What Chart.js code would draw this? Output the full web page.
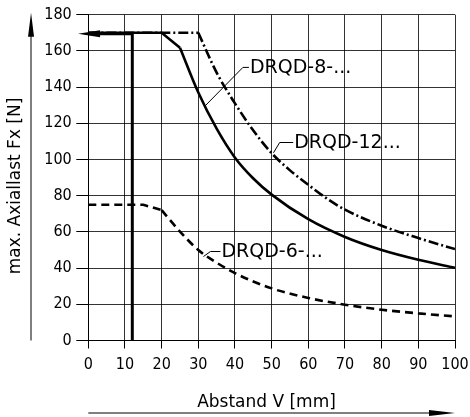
<!DOCTYPE html>
<html>
<head>
<meta charset="utf-8">
<script src="https://cdn.jsdelivr.net/npm/chart.js@4/dist/chart.umd.min.js"></script>
<style>
  html, body { margin: 0; padding: 0; background: #fff; }
  #wrap { width: 470px; height: 417px; position: relative; }
</style>
</head>
<body>
<div id="wrap"><canvas id="kraft-chart"></canvas></div>
<script>
// Werte
const xTicks = [0, 10, 20, 30, 40, 50, 60, 70, 80, 90, 100];
const yTicks = [0, 20, 40, 60, 80, 100, 120, 140, 160, 180];

const abstand8 = [0, 20, 25, 30, 35, 40, 45, 50, 60, 70, 80, 90, 100];
const drqd8 = [170, 170, 161.8, 137, 117, 101, 89.5, 80.6, 67, 57.2, 50, 44.6, 40.2];

const abstand12 = [0, 30, 35, 40, 45, 50, 55, 60, 65, 70, 80, 90, 100];
const drqd12 = [170, 170, 148, 131, 116, 103.5, 94, 86, 78.5, 72.3, 63.4, 56.6, 50.5];

const abstand6 = [0, 15, 20, 25, 30, 35, 40, 50, 60, 70, 80, 90, 100];
const drqd6 = [75, 75, 72, 60.2, 50, 43, 37.2, 28.8, 23.5, 19.8, 17, 15, 13.3];

// Index des Knicks: bis dorthin gerade, danach gekruemmt
const knick8 = 2;
const knick12 = 1;
const knick6 = 2;

// senkrechte Begrenzung bei V = 12 mm und Pfeil bei Fx max
const stopX = [12, 12];
const stopY = [0, 170];
const arrowX = [12, -2.8];
const arrowY = [169.5, 169.5];

const seriesLabels = ['DRQD-8-...', 'DRQD-12...', 'DRQD-6-...'];
// Ankerpunkte der Beschriftungen auf den Kurven
const labelAnchorX = [31.8, 50.5, 31.4];
const labelAnchorY = [129.5, 103.7, 46.4];

const toPoints = (xs, ys) => xs.map((x, i) => ({ x: x, y: ys[i] }));

const tickFont = '"DejaVu Sans Condensed", "DejaVu Sans", sans-serif';

const makeSeries = (label, xs, ys, knick, dash) => {
    const pts = toPoints(xs, ys);
    const base = { label: label, borderColor: '#000', borderWidth: 2.6, borderDash: dash };
    return [
        Object.assign({}, base, { data: pts.slice(0, knick + 1), tension: 0 }),
        Object.assign({}, base, { data: pts.slice(knick), cubicInterpolationMode: 'monotone' })
    ];
};

const drawArrowHead = (ctx, x, y, dir, len, half) => {
    ctx.beginPath();
    if (dir === 'left') {
        ctx.moveTo(x, y); ctx.lineTo(x + len, y - half); ctx.lineTo(x + len, y + half);
    } else if (dir === 'right') {
        ctx.moveTo(x, y); ctx.lineTo(x - len, y - half); ctx.lineTo(x - len, y + half);
    } else {
        ctx.moveTo(x, y); ctx.lineTo(x - half, y + len); ctx.lineTo(x + half, y + len);
    }
    ctx.closePath();
    ctx.fill();
};

const decorPlugin = {
    id: 'decor',
    afterDatasetsDraw(chart) {
        const { ctx, scales } = chart;
        const xs = scales.x, ys = scales.y;
        ctx.save();
        ctx.strokeStyle = '#000';
        ctx.fillStyle = '#000';

        // Pfeil nach links bei Fx max
        const ax0 = xs.getPixelForValue(arrowX[0]);
        const ax1 = xs.getPixelForValue(arrowX[1]);
        const ay = ys.getPixelForValue(arrowY[0]);
        ctx.lineWidth = 3;
        ctx.beginPath();
        ctx.moveTo(ax0, ay);
        ctx.lineTo(ax1 + 10, ay);
        ctx.stroke();
        drawArrowHead(ctx, ax1, ay, 'left', 22, 3.5);

        // Beschriftungen mit Hinweislinien
        const offsets = [[38, -38.7, 44], [6.2, -10.3, 19.7], [7, -5, 17]];
        ctx.lineWidth = 1;
        ctx.font = '19px "DejaVu Sans", sans-serif';
        ctx.textBaseline = 'middle';
        ctx.textAlign = 'left';
        seriesLabels.forEach((txt, i) => {
            const px = xs.getPixelForValue(labelAnchorX[i]);
            const py = ys.getPixelForValue(labelAnchorY[i]);
            const o = offsets[i];
            ctx.beginPath();
            ctx.moveTo(px, py);
            ctx.lineTo(px + o[0], py + o[1]);
            ctx.lineTo(px + o[2], py + o[1]);
            ctx.stroke();
            ctx.fillText(txt, px + o[2] + 1, py + o[1] + 1);
        });
        ctx.restore();
    },
    afterDraw(chart) {
        const { ctx, chartArea } = chart;
        ctx.save();
        ctx.strokeStyle = '#000';
        ctx.fillStyle = '#000';
        ctx.lineWidth = 1;

        // Achsenpfeil y
        ctx.beginPath();
        ctx.moveTo(31, chartArea.bottom);
        ctx.lineTo(31, chartArea.top + 10);
        ctx.stroke();
        drawArrowHead(ctx, 31, chartArea.top - 2, 'up', 24, 3);

        // Achsenpfeil x
        ctx.beginPath();
        ctx.moveTo(chartArea.left, 413);
        ctx.lineTo(chartArea.right - 10, 413);
        ctx.stroke();
        drawArrowHead(ctx, chartArea.right, 413, 'right', 26, 3);

        // Achsentitel
        ctx.font = '17px "DejaVu Sans", sans-serif';
        ctx.textAlign = 'center';
        ctx.textBaseline = 'alphabetic';
        ctx.fillText('Abstand V [mm]', 266.5, 406.5);
        ctx.translate(20, 186);
        ctx.rotate(-Math.PI / 2);
        ctx.fillText('max. Axiallast Fx [N]', 0, 0);
        ctx.restore();
    }
};

let kraftChart = null;

const renderChart = () => {
    const ctx = document.getElementById('kraft-chart').getContext('2d');
    if (kraftChart) {
        kraftChart.destroy();
    }
    const datasets = []
        .concat(makeSeries(seriesLabels[0], abstand8, drqd8, knick8, []))
        .concat(makeSeries(seriesLabels[1], abstand12, drqd12, knick12, [10, 3, 2, 3]))
        .concat(makeSeries(seriesLabels[2], abstand6, drqd6, knick6, [8, 5]));
    datasets.push({
        label: 'Grenze',
        data: toPoints(stopX, stopY),
        borderColor: '#000',
        borderWidth: 3,
    });
    kraftChart = new Chart(ctx, {
        type: 'line',
        data: { datasets: datasets },
        options: {
            responsive: true,
            maintainAspectRatio: false,
            animation: false,
            elements: { point: { radius: 0 } },
            layout: { padding: { top: 14.7, right: 15, left: 0, bottom: 0 } },
            scales: {
                x: {
                    type: 'linear',
                    min: 0,
                    max: 100,
                    afterFit: (scale) => {
                        scale.height = 76.5;
                        scale.paddingLeft = 0;
                        scale.paddingRight = 0;
                    },
                    afterBuildTicks: (scale) => { scale.ticks = xTicks.map(v => ({ value: v })); },
                    ticks: { color: '#000', padding: 7, maxRotation: 0, font: { family: tickFont, size: 16 } },
                    grid: { color: 'rgba(0,0,0,0.8)', lineWidth: 1, tickLength: 8, tickColor: '#000' },
                    border: { color: '#000', width: 1 }
                },
                y: {
                    min: 0,
                    max: 180,
                    afterFit: (scale) => {
                        scale.width = 88.3;
                        scale.paddingTop = 0;
                        scale.paddingBottom = 0;
                    },
                    afterBuildTicks: (scale) => { scale.ticks = yTicks.map(v => ({ value: v })); },
                    ticks: { color: '#000', padding: 4.6, font: { family: tickFont, size: 16 } },
                    grid: { color: 'rgba(0,0,0,0.8)', lineWidth: 1, tickLength: 12, tickColor: '#000' },
                    border: { color: '#000', width: 1 }
                }
            },
            plugins: {
                legend: { display: false },
                tooltip: { enabled: false }
            }
        },
        plugins: [decorPlugin]
    });
};

renderChart();
</script>
</body>
</html>
